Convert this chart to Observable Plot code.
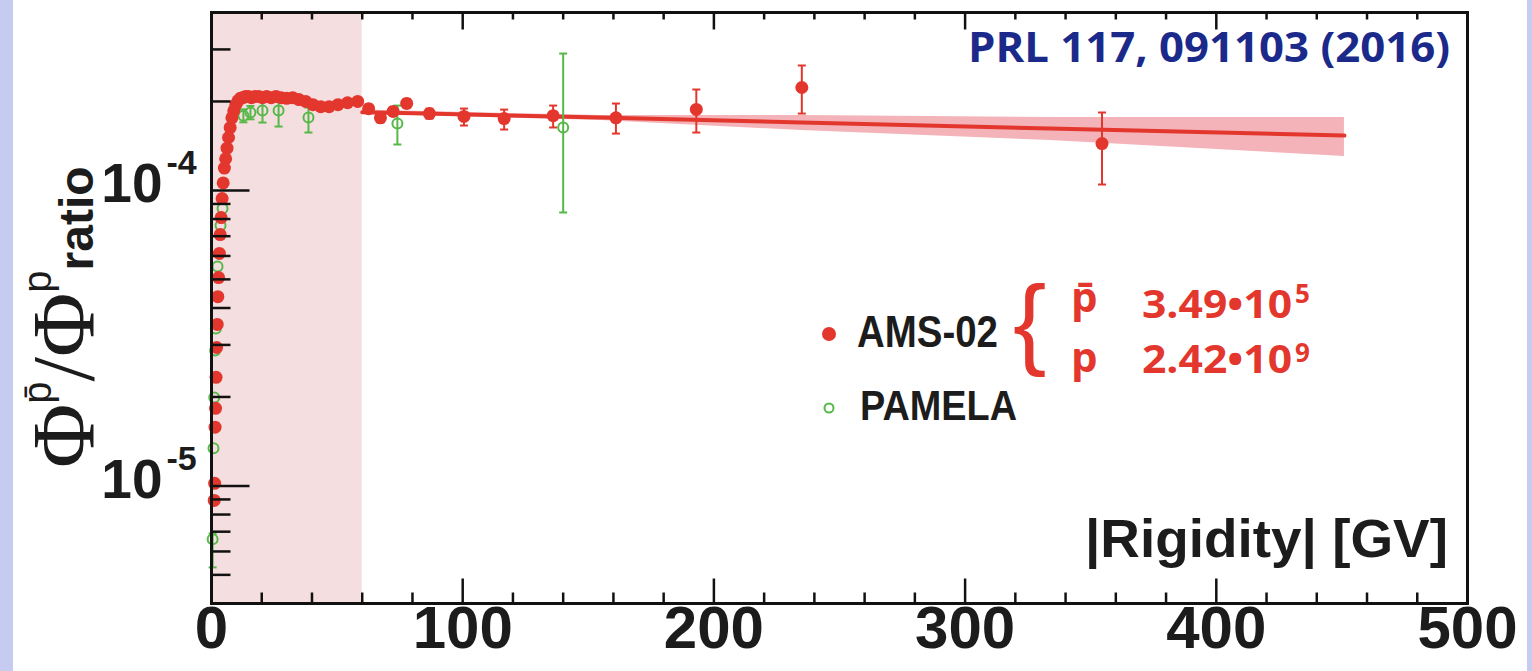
<!DOCTYPE html>
<html><head><meta charset="utf-8">
<script src="https://cdn.jsdelivr.net/npm/d3@7"></script>
<script src="https://cdn.jsdelivr.net/npm/@observablehq/plot@0.6"></script>
<style>
html,body{margin:0;padding:0;background:#fff;width:1532px;height:671px;overflow:hidden;}
#wrap{position:relative;width:1532px;height:671px;}
#lstrip{position:absolute;left:0;top:0;width:13px;height:671px;background:#c6ccef;}
#rstrip{position:absolute;left:1527px;top:0;width:5px;height:671px;background:#c6ccef;}
#chart{position:absolute;left:0;top:0;}
</style></head><body>
<div id="wrap"><div id="lstrip"></div><div id="rstrip"></div><div id="chart"></div></div>
<script>
// ---------- data ----------
const xTickValues = [0, 100, 200, 300, 400, 500];
const xTickLabels = ["0", "100", "200", "300", "400", "500"];
const xMinorTicks = [20,40,60,80,120,140,160,180,220,240,260,280,320,340,360,380,420,440,460,480];
const yMajorTicks = [1e-5, 1e-4];
const yTickBase = ["10", "10"];
const yTickExp = ["-5", "-4"];
const yMinorTicks = [5e-6,6e-6,7e-6,8e-6,9e-6,2e-5,3e-5,4e-5,5e-5,6e-5,7e-5,8e-5,9e-5,2e-4,3e-4];
const shadedRange = [0, 60];

// AMS-02 antiproton / proton ratio (bin centres, GV)
const amsRigidity = [1.08,1.245,1.42,1.61,1.815,2.035,2.275,2.535,2.82,3.13,3.465,
  3.83,4.225,4.655,5.125,5.635,6.185,6.78,7.425,8.12,8.87,9.68,
  10.55,11.5,12.5,13.55,14.7,15.95,17.3,18.75,20.3,21.95,23.75,25.7,27.75,29.95,32.3,34.8,37.5,40.4,43.5,46.8,50.35,54.15,58.2,
  62.55,67.25,72.3,77.7,86.75,100.5,116.5,136,161,193,235,354.5];
const amsRatio = [8.93e-6,1.02e-5,1.58e-5,1.83e-5,2.33e-5,2.94e-5,3.52e-5,4.37e-5,5.07e-5,6.12e-5,7.09e-5,
  8.09e-5,9.39e-5,1.06e-4,1.19e-4,1.28e-4,1.39e-4,1.51e-4,1.63e-4,1.76e-4,1.86e-4,1.95e-4,
  2.01e-4,2.05e-4,2.06e-4,2.08e-4,2.08e-4,2.06e-4,2.08e-4,2.08e-4,2.06e-4,2.08e-4,2.06e-4,2.08e-4,2.06e-4,2.05e-4,2.06e-4,2.03e-4,2.00e-4,1.95e-4,1.92e-4,1.92e-4,1.95e-4,1.98e-4,2.00e-4,
  1.89e-4,1.76e-4,1.85e-4,1.97e-4,1.82e-4,1.78e-4,1.75e-4,1.79e-4,1.76e-4,1.88e-4,2.23e-4,1.44e-4];
const amsErrRigidity = [62.55,67.25,72.3,77.7,86.75,100.5,116.5,136,161,193,235,354.5];
const amsErrLow  = [1.83e-4,1.70e-4,1.79e-4,1.90e-4,1.75e-4,1.658e-4,1.607e-4,1.633e-4,1.557e-4,1.570e-4,1.820e-4,1.047e-4];
const amsErrHigh = [1.95e-4,1.82e-4,1.91e-4,2.04e-4,1.89e-4,1.892e-4,1.877e-4,1.937e-4,1.968e-4,2.195e-4,2.647e-4,1.835e-4];

// PAMELA
const pamelaRigidity = [0.45,0.8,1.1,1.45,1.75,2.4,3.6,4.4,12.7,15.5,20.3,26.7,38.6,74,140];
const pamelaRatio = [6.6e-6,1.34e-5,1.99e-5,2.87e-5,3.41e-5,5.53e-5,7.61e-5,8.68e-5,1.79e-4,1.835e-4,1.863e-4,1.863e-4,1.764e-4,1.684e-4,1.633e-4];
const pamelaErrRigidity = [0.45,12.7,15.5,20.3,26.7,38.6,74,140];
const pamelaErrLow  = [5.3e-6,1.70e-4,1.74e-4,1.697e-4,1.645e-4,1.570e-4,1.430e-4,8.42e-5];
const pamelaErrHigh = [6.9e-6,1.88e-4,1.93e-4,1.998e-4,2.046e-4,1.907e-4,1.937e-4,2.905e-4];

// fit line and its uncertainty band
const fitRigidity = [60, 85, 155, 235, 334, 451];
const fitRatio = [1.84e-4, 1.82e-4, 1.764e-4, 1.698e-4, 1.619e-4, 1.533e-4];
const fitLow  = [1.81e-4, 1.79e-4, 1.724e-4, 1.594e-4, 1.475e-4, 1.302e-4];
const fitHigh = [1.87e-4, 1.85e-4, 1.791e-4, 1.791e-4, 1.764e-4, 1.764e-4];

// ---------- build tables ----------
const ams = amsRigidity.map((r, i) => ({r, v: amsRatio[i]}));
const amsErr = amsErrRigidity.map((r, i) => ({r, lo: amsErrLow[i], hi: amsErrHigh[i]}));
const pam = pamelaRigidity.map((r, i) => ({r, v: pamelaRatio[i]}));
const pamErr = pamelaErrRigidity.map((r, i) => ({r, lo: pamelaErrLow[i], hi: pamelaErrHigh[i]}));
const fit = fitRigidity.map((r, i) => ({r, v: fitRatio[i], lo: fitLow[i], hi: fitHigh[i]}));

const RED = "#e3372e", GREEN = "#56b848", PINK = "#f5dedf", BAND = "#f3b3b8", INK = "#1c1c1c";
const yDomain = [4e-6, 4e-4];

const sym = (fn) => ({draw(ctx, size){ const l = Math.sqrt(size / Math.PI); fn(ctx, l); }});
const capSym = sym((c, l) => { c.moveTo(-l, 0); c.lineTo(l, 0); });
const tickUp = sym((c, l) => { c.moveTo(0, 0); c.lineTo(0, -l); });
const tickDown = sym((c, l) => { c.moveTo(0, 0); c.lineTo(0, l); });
const tickRight = sym((c, l) => { c.moveTo(0, 0); c.lineTo(l, 0); });

const tickStyle = {stroke: "#111", strokeWidth: 2.5, fill: "none"};

const plot = Plot.plot({
  width: 1532, height: 671,
  marginLeft: 211, marginRight: 65, marginTop: 12, marginBottom: 68,
  x: {domain: [0, 500], axis: null},
  y: {type: "log", domain: yDomain, axis: null},
  style: {background: "transparent", fontFamily: "Liberation Sans, Arial, sans-serif", overflow: "visible"},
  marks: [
    Plot.rect([{x1: shadedRange[0], x2: shadedRange[1]}], {x1: "x1", x2: "x2", y1: yDomain[0], y2: yDomain[1], fill: PINK}),
    Plot.areaY(fit, {x: "r", y1: "lo", y2: "hi", fill: BAND}),
    Plot.line(fit, {x: "r", y: "v", stroke: RED, strokeWidth: 4}),
    Plot.ruleX(pamErr, {x: "r", y1: "lo", y2: "hi", stroke: GREEN, strokeWidth: 2}),
    Plot.dot(pamErr, {x: "r", y: "lo", symbol: capSym, r: 4, stroke: GREEN, strokeWidth: 2, fill: "none"}),
    Plot.dot(pamErr, {x: "r", y: "hi", symbol: capSym, r: 4, stroke: GREEN, strokeWidth: 2, fill: "none"}),
    Plot.dot(pam, {x: "r", y: "v", r: 5, stroke: GREEN, strokeWidth: 2, fill: "none"}),
    Plot.ruleX(amsErr, {x: "r", y1: "lo", y2: "hi", stroke: RED, strokeWidth: 2}),
    Plot.dot(amsErr, {x: "r", y: "lo", symbol: capSym, r: 4, stroke: RED, strokeWidth: 2, fill: "none"}),
    Plot.dot(amsErr, {x: "r", y: "hi", symbol: capSym, r: 4, stroke: RED, strokeWidth: 2, fill: "none"}),
    Plot.dot(ams, {x: "r", y: "v", r: 6.5, fill: RED}),
    Plot.frame({stroke: "#111", strokeWidth: 3}),
    // bottom ticks (inward)
    Plot.dot(xMinorTicks, {x: d => d, frameAnchor: "bottom", symbol: tickUp, r: 11, ...tickStyle}),
    Plot.dot(xTickValues, {x: d => d, frameAnchor: "bottom", symbol: tickUp, r: 25, ...tickStyle}),
    // top ticks
    Plot.dot(xMinorTicks, {x: d => d, frameAnchor: "top", symbol: tickDown, r: 7, ...tickStyle}),
    Plot.dot(xTickValues, {x: d => d, frameAnchor: "top", symbol: tickDown, r: 17, ...tickStyle}),
    // left ticks
    Plot.dot(yMinorTicks, {y: d => d, frameAnchor: "left", symbol: tickRight, r: 19, ...tickStyle}),
    Plot.dot(yMajorTicks, {y: d => d, frameAnchor: "left", symbol: tickRight, r: 38, ...tickStyle}),
    // tick labels
    Plot.text(xTickValues, {x: d => d, frameAnchor: "bottom", dy: 44, text: (d, i) => xTickLabels[i],
      fontSize: 60, fontWeight: "bold", fill: INK}),
    Plot.text(yMajorTicks, {y: d => d, frameAnchor: "left", dx: -49, dy: -6, textAnchor: "end",
      text: (d, i) => yTickBase[i], fontSize: 55, fontWeight: "bold", fill: INK}),
    Plot.text(yMajorTicks, {y: d => d, frameAnchor: "left", dx: -45, dy: -27, textAnchor: "start",
      text: (d, i) => yTickExp[i], fontSize: 34, fontWeight: "bold", fill: INK})
  ]
});
document.getElementById("chart").append(plot);

// ---------- annotations ----------
const svg = d3.select(plot);
function txt(x, y, s, o = {}) {
  const t = svg.append("text").attr("x", x).attr("y", y).text(s)
    .attr("text-anchor", "start")
    .attr("font-family", o.family || "Liberation Sans, Arial, sans-serif")
    .attr("font-weight", o.weight || "bold")
    .attr("font-size", o.size || 40)
    .attr("fill", o.fill || INK);
  if (o.len) t.attr("textLength", o.len).attr("lengthAdjust", "spacingAndGlyphs");
  return t;
}
// publication reference
txt(968, 62, "PRL 117, 091103 (2016)", {family: "Open Sans, sans-serif", size: 42, fill: "#1b2a8a", len: 482});
// x axis title
txt(1085, 557, "|Rigidity| [GV]", {size: 53, len: 363});
// y axis title
const yl = svg.append("text").attr("transform", "translate(93,468) rotate(-90)")
  .attr("text-anchor", "start").attr("fill", INK);
yl.append("tspan").attr("font-family", "Liberation Serif, serif").attr("font-size", 88).text("Φ");
yl.append("tspan").attr("font-family", "Liberation Sans, sans-serif").attr("font-size", 40).attr("dy", -42).text("p\u0304");
yl.append("tspan").attr("font-family", "Liberation Serif, serif").attr("font-size", 88).attr("dy", 42).text("/Φ");
yl.append("tspan").attr("font-family", "Liberation Sans, sans-serif").attr("font-size", 40).attr("dy", -42).text("p");
yl.append("tspan").attr("font-family", "Liberation Sans, sans-serif").attr("font-weight", "bold").attr("font-size", 48).attr("dy", 42).text("ratio");

// legend
svg.append("circle").attr("cx", 829).attr("cy", 334).attr("r", 7).attr("fill", RED);
txt(857, 347, "AMS-02", {size: 44, len: 141});
svg.append("circle").attr("cx", 829).attr("cy", 408).attr("r", 4.5).attr("fill", "none").attr("stroke", GREEN).attr("stroke-width", 2);
txt(860, 420, "PAMELA", {size: 42, len: 157});
txt(1013, 356, "{", {size: 100, weight: "normal", fill: RED});
const OS = "Open Sans, sans-serif";
txt(1071, 312, "p\u0304", {family: OS, size: 42, fill: RED});
txt(1142, 318, "3.49•10", {family: OS, size: 39, fill: RED, len: 150});
txt(1295, 303, "5", {family: OS, size: 26, fill: RED});
txt(1071, 372, "p", {family: OS, size: 42, fill: RED});
txt(1142, 373, "2.42•10", {family: OS, size: 39, fill: RED, len: 150});
txt(1295, 362, "9", {family: OS, size: 26, fill: RED});
</script>
</body></html>
